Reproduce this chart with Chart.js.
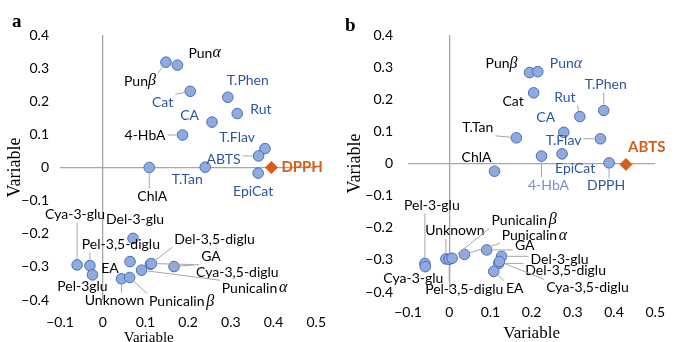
<!DOCTYPE html>
<html>
<head>
<meta charset="utf-8">
<script src="https://cdn.jsdelivr.net/npm/chart.js@4.4.1/dist/chart.umd.min.js"></script>
<style>
  html, body { margin: 0; padding: 0; background: #fff; overflow: hidden; width: 677px; height: 342px; }
  .panel { position: absolute; top: 0; }
  .tag { position: absolute; font: bold 19px "Liberation Serif", serif; color: #000; line-height: 20px; }
</style>
</head>
<body>
<div class="panel" style="left:0"><canvas id="chartA" width="340" height="350"></canvas></div>
<div class="panel" style="left:340px"><canvas id="chartB" width="337" height="350"></canvas></div>
<div class="tag" style="left:12px;top:11px">a</div>
<div class="tag" style="left:345px;top:15px">b</div>
<script>
// panel a: loadings, DPPH as reference variable
const namesA = ['Punβ', 'Punα', 'Cat', 'T.Phen', 'Rut', 'CA', '4-HbA', 'T.Flav', 'ABTS', 'T.Tan', 'ChlA', 'EpiCat', 'DPPH',
  'Cya-3-glu', 'Pel-3,5-diglu', 'Pel-3glu', 'Del-3-glu', 'EA', 'Del-3,5-diglu', 'Cya-3,5-diglu', 'GA', 'Punicalin α', 'Unknown', 'Punicalin β'];
const xA = [0.148, 0.175, 0.205, 0.293, 0.315, 0.256, 0.187, 0.380, 0.365, 0.240, 0.109, 0.364, 0.395,
  -0.060, -0.030, -0.024, 0.071, 0.064, 0.112, 0.114, 0.167, 0.091, 0.044, 0.063];
const yA = [0.318, 0.309, 0.230, 0.212, 0.163, 0.137, 0.098, 0.057, 0.035, 0.001, 0.000, -0.017, 0.000,
  -0.294, -0.296, -0.324, -0.214, -0.284, -0.292, -0.290, -0.299, -0.310, -0.336, -0.332];
const blueA = ['Cat', 'T.Phen', 'Rut', 'CA', 'T.Flav', 'ABTS', 'T.Tan', 'EpiCat'];

// panel b: ABTS as reference variable
const namesB = ['Punβ', 'Punα', 'Cat', 'Rut', 'T.Phen', 'CA', 'T.Tan', 'T.Flav', '4-HbA', 'EpiCat', 'DPPH', 'ChlA', 'ABTS',
  'Pel-3-glu', 'Cya-3-glu', 'Unknown', 'Pel-3,5-diglu', 'Punicalin β', 'Punicalin α', 'GA', 'Del-3-glu', 'Del-3,5-diglu', 'Cya-3,5-diglu', 'EA'];
const xB = [0.195, 0.215, 0.205, 0.317, 0.375, 0.278, 0.163, 0.367, 0.224, 0.274, 0.388, 0.110, 0.429,
  -0.059, -0.058, -0.008, 0.000, 0.007, 0.037, 0.091, 0.127, 0.120, 0.122, 0.108];
const yB = [0.283, 0.286, 0.220, 0.146, 0.165, 0.097, 0.080, 0.077, 0.023, 0.030, 0.002, -0.024, -0.003,
  -0.311, -0.321, -0.297, -0.298, -0.295, -0.283, -0.269, -0.289, -0.311, -0.305, -0.336];
const blueB = ['Punα', 'Rut', 'T.Phen', 'CA', 'T.Flav', 'EpiCat', 'DPPH'];

const xTicks = [-0.1, 0, 0.1, 0.2, 0.3, 0.4, 0.5];
const yTicks = [-0.4, -0.3, -0.2, -0.1, 0, 0.1, 0.2, 0.3, 0.4];

// where each label sits relative to its point (px) and how it is aligned
const placeA = {
  'Punβ': [-10, 19, 'right'], 'Punα': [11, -12, 'left'], 'Cat': [-17, 11, 'right'], 'T.Phen': [-1, -17, 'left'],
  'Rut': [13, -4, 'left'], 'CA': [-13, -7, 'right'], '4-HbA': [-17, 0, 'right'], 'T.Flav': [-10, -11, 'right'],
  'ABTS': [-18, 4, 'right'], 'T.Tan': [-18, 12, 'center'], 'ChlA': [3, 29, 'center'], 'EpiCat': [-5, 18, 'center'],
  'DPPH': [10, 0, 'left'], 'Cya-3-glu': [-2, -50, 'center'], 'Pel-3,5-diglu': [31, -21, 'center'],
  'Pel-3glu': [-10, 12, 'center'], 'Del-3-glu': [2, -19, 'center'], 'EA': [-20, 7, 'center'],
  'Del-3,5-diglu': [64, -25, 'center'], 'Cya-3,5-diglu': [86, 9, 'center'], 'GA': [37, -10, 'center'],
  'Punicalin α': [113, 18, 'center'], 'Unknown': [-7, 22, 'center'], 'Punicalin β': [52, 24, 'center']
};
const placeB = {
  'Punβ': [-12, -9, 'right'], 'Punα': [12, -8, 'left'], 'Cat': [-10, 9, 'right'], 'Rut': [-15, -19, 'center'],
  'T.Phen': [2, -26, 'center'], 'CA': [-18, -15, 'center'], 'T.Tan': [-23, -10, 'right'], 'T.Flav': [-19, 2, 'right'],
  '4-HbA': [7, 29, 'center'], 'EpiCat': [13, 15, 'center'], 'DPPH': [-3, 23, 'center'], 'ChlA': [-18, -14, 'center'],
  'ABTS': [2, -17, 'left'], 'Pel-3-glu': [7, -58, 'center'], 'Cya-3-glu': [-12, 12, 'center'],
  'Unknown': [9, -28, 'center'], 'Pel-3,5-diglu': [15, 30, 'center'], 'Punicalin β': [72, -38, 'center'],
  'Punicalin α': [70, -19, 'center'], 'GA': [38, -4, 'center'], 'Del-3-glu': [58, 3, 'center'],
  'Del-3,5-diglu': [67, 7, 'center'], 'Cya-3,5-diglu': [88, 26, 'center'], 'EA': [21, 17, 'center']
};

const fmt = v => Math.abs(v) < 1e-9 ? '0' : (v < 0 ? '\u2212' : '') + Math.abs(v).toFixed(1);
const zeroLine = c => (c.tick && Math.abs(c.tick.value) < 1e-9) ? '#a6a6a6' : 'rgba(0,0,0,0)';

// split a label so greek letters get an italic serif face, like the original
function parts(text, font) {
  return text.split(/([αβ])/).filter(s => s).map(s =>
    /[αβ]/.test(s) ? { s, font: 'italic 16px "Liberation Serif"' } : { s: s.replace(/ $/, '\u2009'), font });
}

function labelPlugin(place, blues, refName) {
  return {
    id: 'pointLabels',
    afterDatasetsDraw(chart) {
      const ctx = chart.ctx;
      ctx.save();
      ctx.textBaseline = 'middle';
      ctx.textAlign = 'left';
      chart.data.datasets.forEach((ds, d) => {
        chart.getDatasetMeta(d).data.forEach((el, j) => {
          const name = ds.data[j].name;
          const [dx, dy, align] = place[name];
          const lx = el.x + dx, ly = el.y + dy;
          const segs = parts(name, name === refName ? 'bold 15px Lato' : '14px Lato');
          let w = 0;
          segs.forEach(p => { ctx.font = p.font; p.w = ctx.measureText(p.s).width; w += p.w; });
          const left = align === 'left' ? lx : align === 'right' ? lx - w : lx - w / 2;
          // leader line to nearest edge of the label box
          const cx = Math.min(Math.max(el.x, left - 2), left + w + 2);
          const cy = Math.min(Math.max(el.y, ly - 8), ly + 8);
          const vx = cx - el.x, vy = cy - el.y, dist = Math.hypot(vx, vy);
          if (dist > 11) {
            ctx.strokeStyle = '#a6a6a6';
            ctx.lineWidth = 1;
            ctx.beginPath();
            ctx.moveTo(el.x + vx / dist * 6, el.y + vy / dist * 6);
            ctx.lineTo(cx, cy);
            ctx.stroke();
          }
          ctx.fillStyle = name === refName ? '#d2601a' : (name === '4-HbA' && blues === blueB) ? '#7d8fbf'
            : blues.includes(name) ? '#2e54a0' : '#000';
          let x = left;
          segs.forEach(p => { ctx.font = p.font; ctx.fillText(p.s, x, ly); x += p.w; });
        });
      });
      ctx.restore();
    }
  };
}

function drawPanel(id, names, xs, ys, refName, blues, place, box) {
  const pts = [], ref = [];
  names.forEach((n, i) => (n === refName ? ref : pts).push({ x: xs[i], y: ys[i], name: n }));
  new Chart(document.getElementById(id), {
    type: 'scatter',
    data: {
      datasets: [
        { data: pts, pointRadius: 5.3, backgroundColor: '#8faadc', borderColor: '#4a6fb8', borderWidth: 1 },
        { data: ref, pointStyle: 'rectRot', pointRadius: 6, backgroundColor: '#d2601a', borderColor: '#d2601a', borderWidth: 1 }
      ]
    },
    options: {
      responsive: false,
      animation: false,
      events: [],
      layout: { padding: { top: 35, right: box.right, left: 0, bottom: 0 } },
      plugins: { legend: { display: false }, tooltip: { enabled: false } },
      scales: {
        x: {
          type: 'linear', min: -0.1, max: 0.5,
          afterBuildTicks: s => { s.ticks = xTicks.map(v => ({ value: v })); },
          ticks: { padding: box.xPad, color: '#000', font: { family: 'Lato', size: 14 }, callback: fmt, maxRotation: 0 },
          grid: { drawTicks: false, color: zeroLine, lineWidth: 1.3 },
          border: { display: false },
          title: { display: true, text: box.xTitle, color: '#000', font: { family: 'Liberation Serif', size: box.xTitleSize }, padding: { top: 0, bottom: box.xTitlePad } },
          afterFit: s => { s.height = box.xHeight; }
        },
        y: {
          type: 'linear', min: -0.4, max: 0.4,
          afterBuildTicks: s => { s.ticks = yTicks.map(v => ({ value: v })); },
          ticks: { padding: box.yPad, color: '#000', font: { family: 'Lato', size: 14 }, callback: fmt },
          grid: { drawTicks: false, color: zeroLine, lineWidth: 1.3 },
          border: { display: false },
          title: { display: true, text: 'Variable', color: '#000', font: { family: 'Liberation Serif', size: 18 }, padding: { top: 4, bottom: 0 } },
          afterFit: s => { s.width = box.yWidth; }
        }
      }
    },
    plugins: [labelPlugin(place, blues, refName)]
  });
}

drawPanel('chartA', namesA, xA, yA, 'DPPH', blueA, placeA,
  { right: 7, yWidth: 60, yPad: 11, xHeight: 50, xPad: 14, xTitle: 'Variable' + ' '.repeat(21), xTitleSize: 15, xTitlePad: 3 });
drawPanel('chartB', namesB, xB, yB, 'ABTS', blueB, placeB,
  { right: 7, yWidth: 68, yPad: 15, xHeight: 58, xPad: 12, xTitle: 'Variable', xTitleSize: 17, xTitlePad: 6 });
</script>
</body>
</html>
